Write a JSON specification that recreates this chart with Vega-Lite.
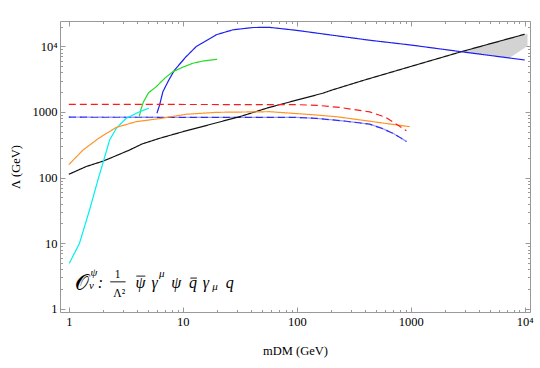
{
  "$schema": "https://vega.github.io/schema/vega-lite/v6.json",
  "width": 470,
  "height": 291,
  "autosize": {"type": "none"},
  "padding": {"left": 60, "top": 21, "right": 10, "bottom": 56},
  "background": "white",
  "config": {
    "view": {"stroke": "#999999", "strokeWidth": 1},
    "font": "Liberation Serif",
    "axis": {
      "labelFont": "Liberation Serif",
      "titleFont": "Liberation Serif",
      "labelFontSize": 12.5,
      "titleFontSize": 12.5,
      "titleFontWeight": "normal",
      "labelColor": "black",
      "titleColor": "black",
      "domain": false,
      "grid": false,
      "tickColor": "#999999",
      "labelOverlap": false,
      "labelFlush": false
    }
  },
  "datasets": {
    "curves": [
      {"s": "black", "m": 1, "L": 112}, {"s": "black", "m": 1.42, "L": 147}, {"s": "black", "m": 2.0, "L": 178},
      {"s": "black", "m": 2.6, "L": 215}, {"s": "black", "m": 3.4, "L": 262}, {"s": "black", "m": 4.4, "L": 325},
      {"s": "black", "m": 6.26, "L": 396}, {"s": "black", "m": 10, "L": 499}, {"s": "black", "m": 31.5, "L": 845},
      {"s": "black", "m": 57.8, "L": 1175}, {"s": "black", "m": 170, "L": 1930}, {"s": "black", "m": 200, "L": 2130},
      {"s": "black", "m": 381, "L": 3010}, {"s": "black", "m": 980, "L": 4870}, {"s": "black", "m": 2786, "L": 8276},
      {"s": "black", "m": 10000, "L": 15240},
      {"s": "blue", "m": 5.93, "L": 952}, {"s": "blue", "m": 6.26, "L": 1274}, {"s": "blue", "m": 6.69, "L": 2033},
      {"s": "blue", "m": 7.5, "L": 3000}, {"s": "blue", "m": 8.47, "L": 4352}, {"s": "blue", "m": 10.7, "L": 6940},
      {"s": "blue", "m": 13.1, "L": 9860}, {"s": "blue", "m": 19.7, "L": 15000}, {"s": "blue", "m": 27.5, "L": 17800},
      {"s": "blue", "m": 41.3, "L": 19300}, {"s": "blue", "m": 57.8, "L": 19400}, {"s": "blue", "m": 99, "L": 17500},
      {"s": "blue", "m": 437, "L": 12340}, {"s": "blue", "m": 980, "L": 10500}, {"s": "blue", "m": 2786, "L": 8250},
      {"s": "blue", "m": 10000, "L": 6180},
      {"s": "green", "m": 4.15, "L": 845}, {"s": "green", "m": 4.3, "L": 1100}, {"s": "green", "m": 4.5, "L": 1400},
      {"s": "green", "m": 5.0, "L": 1950}, {"s": "green", "m": 5.85, "L": 2420}, {"s": "green", "m": 7, "L": 3300},
      {"s": "green", "m": 8.2, "L": 4100}, {"s": "green", "m": 10, "L": 4800}, {"s": "green", "m": 12.27, "L": 5510},
      {"s": "green", "m": 15, "L": 5950}, {"s": "green", "m": 20, "L": 6340},
      {"s": "cyan", "m": 1.01, "L": 4.92}, {"s": "cyan", "m": 1.1, "L": 6.6}, {"s": "cyan", "m": 1.24, "L": 9.93},
      {"s": "cyan", "m": 1.52, "L": 32}, {"s": "cyan", "m": 1.8, "L": 91.6}, {"s": "cyan", "m": 1.99, "L": 165},
      {"s": "cyan", "m": 2.28, "L": 373}, {"s": "cyan", "m": 2.61, "L": 562}, {"s": "cyan", "m": 3.19, "L": 798},
      {"s": "cyan", "m": 4.18, "L": 1007}, {"s": "cyan", "m": 5.04, "L": 1135},
      {"s": "orange", "m": 1, "L": 157}, {"s": "orange", "m": 1.33, "L": 262}, {"s": "orange", "m": 1.86, "L": 405},
      {"s": "orange", "m": 2.61, "L": 580}, {"s": "orange", "m": 3.9, "L": 710}, {"s": "orange", "m": 6.26, "L": 790},
      {"s": "orange", "m": 10.7, "L": 920}, {"s": "orange", "m": 19.7, "L": 985}, {"s": "orange", "m": 57.8, "L": 1007},
      {"s": "orange", "m": 139, "L": 905}, {"s": "orange", "m": 223, "L": 845}, {"s": "orange", "m": 381, "L": 745},
      {"s": "orange", "m": 980, "L": 595},
      {"s": "red", "m": 1, "L": 1305}, {"s": "red", "m": 100, "L": 1290}, {"s": "red", "m": 150, "L": 1260},
      {"s": "red", "m": 238, "L": 1170}, {"s": "red", "m": 437, "L": 1000}, {"s": "red", "m": 600, "L": 830},
      {"s": "red", "m": 749, "L": 650}, {"s": "red", "m": 917, "L": 515},
      {"s": "bluedash", "m": 1, "L": 830}, {"s": "bluedash", "m": 100, "L": 825}, {"s": "bluedash", "m": 150, "L": 795},
      {"s": "bluedash", "m": 273, "L": 720}, {"s": "bluedash", "m": 437, "L": 650}, {"s": "bluedash", "m": 560, "L": 560},
      {"s": "bluedash", "m": 699, "L": 472}, {"s": "bluedash", "m": 917, "L": 355}
    ],
    "shade": [
      {"m": 2786, "lo": 8276, "hi": 8276},
      {"m": 5000, "lo": 7210, "hi": 11090},
      {"m": 7400, "lo": 6700, "hi": 13500},
      {"m": 10580, "lo": 10110, "hi": 15400}
    ],
    "bars": [
      {"x": 2.31, "x2": 3.15, "y": 2.574},
      {"x": 3.91, "x2": 4.69, "y": 3.15},
      {"x": 11.65, "x2": 13.31, "y": 2.94}
    ],
    "bigtext": [
      {"x": 1.293, "y": 1.966, "t": "𝒪"}
    ],
    "maintext": [
      {"x": 1.898, "y": 2.072, "t": ":"},
      {"x": 4.262, "y": 2.072, "t": "ψ"},
      {"x": 5.66, "y": 2.072, "t": "γ"},
      {"x": 8.78, "y": 2.072, "t": "ψ"},
      {"x": 12.28, "y": 2.072, "t": "q"},
      {"x": 15.94, "y": 2.072, "t": "γ"},
      {"x": 25.79, "y": 2.072, "t": "q"}
    ],
    "smallitalic": [
      {"x": 1.66, "y": 3.21, "t": "ψ"},
      {"x": 1.582, "y": 2.036, "t": "v"},
      {"x": 6.55, "y": 3.1, "t": "μ"},
      {"x": 19.2, "y": 1.932, "t": "μ"}
    ],
    "smallupright": [
      {"x": 2.677, "y": 2.99, "t": "1"},
      {"x": 2.77, "y": 1.538, "t": "Λ²"}
    ]
  },
  "resolve": {"axis": {"x": "independent", "y": "independent"}},
  "layer": [
    {
      "data": {"name": "shade"},
      "mark": {"type": "area", "color": "#d3d3d3", "opacity": 1},
      "encoding": {
        "x": {"field": "m", "type": "quantitative", "scale": {"type": "log", "domain": [0.837, 11130], "nice": false},
          "axis": {"orient": "top", "title": null, "labels": false,
            "values": [1,2,3,4,5,6,7,8,9,10,20,30,40,50,60,70,80,90,100,200,300,400,500,600,700,800,900,1000,2000,3000,4000,5000,6000,7000,8000,9000,10000],
            "tickSize": {"condition": {"test": "datum.value == 1 || datum.value == 10 || datum.value == 100 || datum.value == 1000 || datum.value == 10000", "value": -5}, "value": -2.5}}},
        "y": {"field": "hi", "type": "quantitative", "scale": {"type": "log", "domain": [0.894, 24260], "nice": false},
          "axis": {"orient": "right", "title": null, "labels": false,
            "values": [1,2,3,4,5,6,7,8,9,10,20,30,40,50,60,70,80,90,100,200,300,400,500,600,700,800,900,1000,2000,3000,4000,5000,6000,7000,8000,9000,10000,20000],
            "tickSize": {"condition": {"test": "datum.value == 1 || datum.value == 10 || datum.value == 100 || datum.value == 1000 || datum.value == 10000", "value": -5}, "value": -2.5}}},
        "y2": {"field": "lo"}
      }
    },
    {
      "data": {"name": "curves"},
      "transform": [{"filter": "datum.s == 'bluedash'"}],
      "mark": {"type": "line", "strokeWidth": 1.3, "color": "#9a9aff", "strokeDash": [7, 4], "strokeDashOffset": 5},
      "encoding": {
        "x": {"field": "m", "type": "quantitative", "scale": {"type": "log", "domain": [0.837, 11130], "nice": false}, "axis": null},
        "y": {"field": "L", "type": "quantitative", "scale": {"type": "log", "domain": [0.894, 24260], "nice": false}, "axis": null}
      }
    },
    {
      "data": {"name": "curves"},
      "transform": [{"filter": "datum.s == 'bluedash'"}],
      "mark": {"type": "line", "strokeWidth": 1.2, "color": "#2b2bf5", "strokeDash": [7, 4]},
      "encoding": {
        "x": {"field": "m", "type": "quantitative", "scale": {"type": "log", "domain": [0.837, 11130], "nice": false}, "axis": null},
        "y": {"field": "L", "type": "quantitative", "scale": {"type": "log", "domain": [0.894, 24260], "nice": false}, "axis": null}
      }
    },
    {
      "data": {"name": "curves"},
      "transform": [{"filter": "datum.s != 'bluedash'"}],
      "mark": {"type": "line", "strokeWidth": 1.2},
      "encoding": {
        "x": {"field": "m", "type": "quantitative", "scale": {"type": "log", "domain": [0.837, 11130], "nice": false},
          "axis": {"orient": "bottom", "title": "mDM (GeV)", "titlePadding": 14,
            "values": [1,2,3,4,5,6,7,8,9,10,20,30,40,50,60,70,80,90,100,200,300,400,500,600,700,800,900,1000,2000,3000,4000,5000,6000,7000,8000,9000,10000],
            "labelExpr": "datum.value == 10000 ? '10⁴' : (datum.value == 1 || datum.value == 10 || datum.value == 100 || datum.value == 1000) ? format(datum.value, 'd') : ''",
            "labelPadding": 8,
            "tickSize": {"condition": {"test": "datum.value == 1 || datum.value == 10 || datum.value == 100 || datum.value == 1000 || datum.value == 10000", "value": -5}, "value": -2.5}}},
        "y": {"field": "L", "type": "quantitative", "scale": {"type": "log", "domain": [0.894, 24260], "nice": false},
          "axis": {"orient": "left", "title": "Λ (GeV)", "titlePadding": 10,
            "values": [1,2,3,4,5,6,7,8,9,10,20,30,40,50,60,70,80,90,100,200,300,400,500,600,700,800,900,1000,2000,3000,4000,5000,6000,7000,8000,9000,10000,20000],
            "labelExpr": "datum.value == 10000 ? '10⁴' : (datum.value == 1 || datum.value == 10 || datum.value == 100 || datum.value == 1000) ? format(datum.value, 'd') : ''",
            "labelPadding": 8,
            "tickSize": {"condition": {"test": "datum.value == 1 || datum.value == 10 || datum.value == 100 || datum.value == 1000 || datum.value == 10000", "value": -5}, "value": -2.5}}},
        "color": {"field": "s", "type": "nominal", "legend": null,
          "scale": {"domain": ["black", "blue", "green", "cyan", "orange", "red"],
                    "range": ["#111111", "#1f1ff0", "#22dd22", "#00f0f0", "#ff9426", "#ff1a1a"]}},
        "strokeDash": {"field": "s", "type": "nominal", "legend": null,
          "scale": {"domain": ["black", "blue", "green", "cyan", "orange", "red"],
                    "range": [[1, 0], [1, 0], [1, 0], [1, 0], [1, 0], [7, 4]]}},
        "detail": {"field": "s"}
      }
    },
    {
      "data": {"name": "bars"},
      "mark": {"type": "rule", "color": "black", "strokeWidth": 0.9},
      "encoding": {
        "x": {"field": "x", "type": "quantitative", "scale": {"type": "log", "domain": [0.837, 11130], "nice": false}, "axis": null},
        "x2": {"field": "x2"},
        "y": {"field": "y", "type": "quantitative", "scale": {"type": "log", "domain": [0.894, 24260], "nice": false}, "axis": null}
      }
    },
    {
      "data": {"name": "bigtext"},
      "mark": {"type": "text", "fontSize": 22, "font": "DejaVu Serif", "align": "center", "baseline": "alphabetic", "color": "black"},
      "encoding": {
        "x": {"field": "x", "type": "quantitative", "scale": {"type": "log", "domain": [0.837, 11130], "nice": false}, "axis": null},
        "y": {"field": "y", "type": "quantitative", "scale": {"type": "log", "domain": [0.894, 24260], "nice": false}, "axis": null},
        "text": {"field": "t"}
      }
    },
    {
      "data": {"name": "maintext"},
      "mark": {"type": "text", "fontSize": 16, "font": "Liberation Serif", "fontStyle": "italic", "align": "center", "baseline": "alphabetic", "color": "black"},
      "encoding": {
        "x": {"field": "x", "type": "quantitative", "scale": {"type": "log", "domain": [0.837, 11130], "nice": false}, "axis": null},
        "y": {"field": "y", "type": "quantitative", "scale": {"type": "log", "domain": [0.894, 24260], "nice": false}, "axis": null},
        "text": {"field": "t"}
      }
    },
    {
      "data": {"name": "smallitalic"},
      "mark": {"type": "text", "fontSize": 11, "font": "Liberation Serif", "fontStyle": "italic", "align": "center", "baseline": "alphabetic", "color": "black"},
      "encoding": {
        "x": {"field": "x", "type": "quantitative", "scale": {"type": "log", "domain": [0.837, 11130], "nice": false}, "axis": null},
        "y": {"field": "y", "type": "quantitative", "scale": {"type": "log", "domain": [0.894, 24260], "nice": false}, "axis": null},
        "text": {"field": "t"}
      }
    },
    {
      "data": {"name": "smallupright"},
      "mark": {"type": "text", "fontSize": 11.5, "font": "Liberation Serif", "align": "center", "baseline": "alphabetic", "color": "black"},
      "encoding": {
        "x": {"field": "x", "type": "quantitative", "scale": {"type": "log", "domain": [0.837, 11130], "nice": false}, "axis": null},
        "y": {"field": "y", "type": "quantitative", "scale": {"type": "log", "domain": [0.894, 24260], "nice": false}, "axis": null},
        "text": {"field": "t"}
      }
    }
  ]
}
